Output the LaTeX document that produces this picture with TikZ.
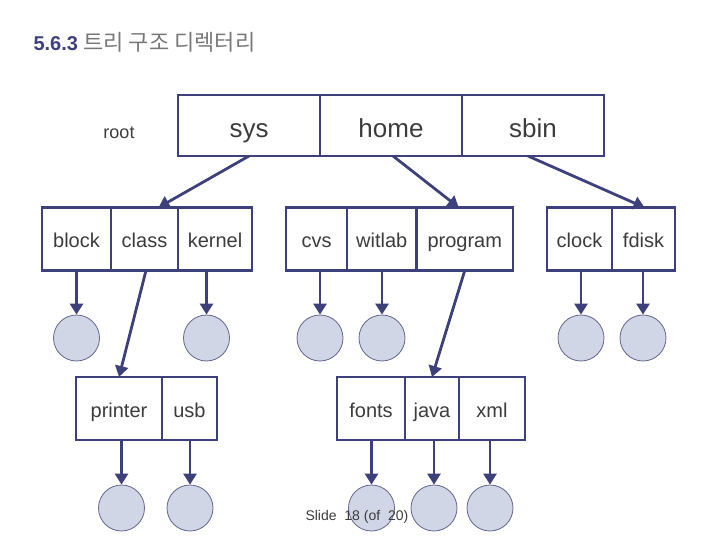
\documentclass[tikz,border=0pt]{standalone}
\usepackage{fontspec}
\setmainfont{Liberation Sans}
\newfontfamily\krfont{Noto Sans CJK KR}
\usetikzlibrary{arrows.meta}

\definecolor{navy}{RGB}{62,64,124}
\definecolor{leaffill}{RGB}{208,214,230}
\definecolor{leafline}{RGB}{100,102,140}
\definecolor{labeltext}{RGB}{60,60,60}
\definecolor{titlegray}{RGB}{120,120,120}

\begin{document}
\begin{tikzpicture}[x=1pt,y=-1pt,
    cell/.style={draw=navy, line width=2.8pt, anchor=west, minimum height=63pt,
      inner sep=0pt, outer sep=0pt, text=labeltext, text height=17pt, text depth=0pt,
      font=\fontsize{20}{24}\selectfont},
    topcell/.style={cell, minimum height=61pt, text height=25pt, text depth=0pt,
      font=\fontsize{26}{30}\selectfont},
    leaf/.style={circle, draw=leafline, line width=0.8pt, fill=leaffill,
      minimum size=46pt, inner sep=0pt},
    link/.style={draw=navy, line width=2.8pt, -{Triangle[length=11pt,width=13pt]}}
  ]
  \useasboundingbox (0,0) rectangle (720,540);

  % Titel
  \node[anchor=west, font=\fontsize{20}{24}\selectfont] (title) at (30,42)
    {\textbf{\color{navy}5.6.3} {\krfont\fontsize{22}{24}\selectfont\color{titlegray}트리 구조 디렉터리}};
  \node[font=\fontsize{18}{20}\selectfont, text=labeltext] (root) at (119,133) {root};

  % Wurzel
  \node[topcell, minimum width=142pt] (sys)  at (178,125.5) {sys};
  \node[topcell, minimum width=142pt] (home) at (320,125.5) {home};
  \node[topcell, minimum width=142pt] (sbin) at (462,125.5) {sbin};

  % zweite Ebene
  \node[cell, minimum width=69pt] (block)  at (42,239)  {block};
  \node[cell, minimum width=67pt] (class)  at (111,239) {class};
  \node[cell, minimum width=74pt] (kernel) at (178,239) {kernel};

  \node[cell, minimum width=61pt]   (cvs)     at (286,239)   {cvs};
  \node[cell, minimum width=69.5pt] (witlab)  at (347,239)   {witlab};
  \node[cell, minimum width=96.5pt] (program) at (416.5,239) {program};

  \node[cell, minimum width=65pt] (clock) at (547,239) {clock};
  \node[cell, minimum width=63pt] (fdisk) at (612,239) {fdisk};

  % dritte Ebene
  \node[cell, minimum width=86pt] (printer) at (76,408.5)  {printer};
  \node[cell, minimum width=55pt] (usb)     at (162,408.5) {usb};

  \node[cell, minimum width=68pt] (fonts) at (337,408.5) {fonts};
  \node[cell, minimum width=54pt] (java)  at (405,408.5) {java};
  \node[cell, minimum width=66pt] (xml)   at (459,408.5) {xml};

  % Dateien
  \node[leaf] (blockleaf)  at (76.5,338) {};
  \node[leaf] (kernelleaf) at (206.5,338) {};
  \node[leaf] (cvsleaf)    at (320,338) {};
  \node[leaf] (witlableaf) at (382,338) {};
  \node[leaf] (clockleaf)  at (581,338) {};
  \node[leaf] (fdiskleaf)  at (643,338) {};
  \node[leaf] (printerleaf) at (121.5,508) {};
  \node[leaf] (usbleaf)     at (190,508) {};
  \node[leaf] (fontsleaf)   at (371.5,508) {};
  \node[leaf] (javaleaf)    at (434,508) {};
  \node[leaf] (xmlleaf)     at (490,508) {};

  % Verzeichnisverweise
  \draw[link] (sys.south) -- ([xshift=14pt]class.north);
  \draw[link] ([xshift=2pt]home.south) -- ([xshift=-6pt]program.north);
  \draw[link] ([xshift=-5pt]sbin.south) -- ([xshift=1pt]fdisk.north);
  \draw[link] ([xshift=1.5pt]class.south) -- (printer.north);
  \draw[link] (program.south) -- (java.north);

  % Dateiverweise
  \foreach \d in {block,kernel,cvs,witlab,clock,fdisk,printer,usb,fonts,java,xml}
    \draw[link] (\d.south -| \d leaf.north) -- (\d leaf.north);

  \node[anchor=west, font=\fontsize{14}{16}\selectfont, text=labeltext] (footer)
    at (302,517) {Slide\ \ 18 (of\ \ 20)};
\end{tikzpicture}
\end{document}
